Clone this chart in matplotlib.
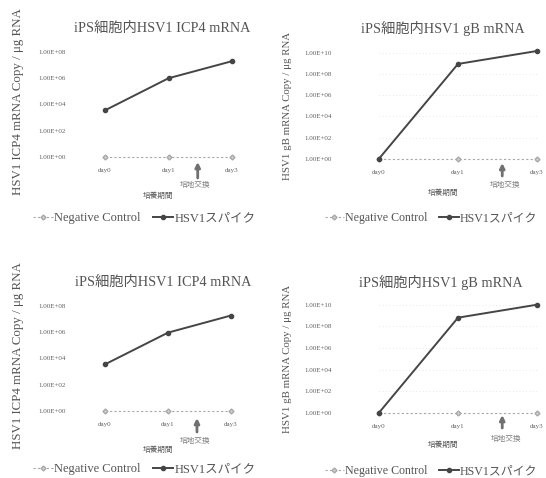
import matplotlib
matplotlib.use('Agg')
import matplotlib.pyplot as plt

plt.rcParams['font.family'] = ['Liberation Serif', 'Noto Sans CJK JP']

# data
days = ['day0', 'day1', 'day3']
neg_ctrl = [1, 1, 1]
icp4_a = [3.6e3, 1.0e6, 2.0e7]
icp4_b = [3.5e3, 9.0e5, 1.8e7]
gb_a = [1, 8.7e8, 1.45e10]
gb_b = [1, 6.3e8, 1.0e10]
icp4_ticks = [1e0, 1e2, 1e4, 1e6, 1e8]
icp4_ticklabels = ['1.00E+00', '1.00E+02', '1.00E+04', '1.00E+06', '1.00E+08']
gb_ticks = [1e0, 1e2, 1e4, 1e6, 1e8, 1e10]
gb_ticklabels = ['1.00E+00', '1.00E+02', '1.00E+04', '1.00E+06', '1.00E+08', '1.00E+10']

W, H = 546, 478
fig = plt.figure(figsize=(W / 100, H / 100), dpi=100)


def px(x, y):
    return x / W, 1 - y / H


def panel(x0, x1, yb, yt, vals, ticks, labels, title, ylabel, title_xy,
          ylab_xy, ylab_size, tick_pad, arrow, mark_xy, period_xy, leg_xy,
          leg_size, grid):
    ax = fig.add_axes([x0 / W, 1 - yb / H, (x1 - x0) / W, (yb - yt) / H])
    ax.set_yscale('log')
    x = range(len(days))
    if grid:
        for t in ticks[1:]:
            ax.axhline(t, color='#e0e0e0', lw=0.6, ls=(0, (1, 3)), zorder=0)
    ax.plot(x, neg_ctrl, color='#a8a8a8', lw=0.8, ls=(0, (2, 2)), marker='D',
            ms=2.5, mfc='#d0d0d0', mec='#a8a8a8', clip_on=False,
            label='Negative Control')
    ax.plot(x, vals, color='#454545', lw=1.4, marker='o', ms=3,
            mfc='#454545', mec='#454545', clip_on=False, label='HSV1スパイク')
    ax.set_xlim(0, 2)
    ax.set_ylim(ticks[0], ticks[-1])
    ax.set_yticks(ticks)
    ax.set_yticklabels(labels)
    ax.minorticks_off()
    ax.set_xticks(list(x))
    ax.set_xticklabels(days)
    ax.tick_params(axis='y', length=0, pad=tick_pad, labelsize=5, labelcolor='#606060')
    ax.tick_params(axis='x', length=0, pad=8, labelsize=5, labelcolor='#606060')
    for s in ax.spines.values():
        s.set_visible(False)
    ax.patch.set_alpha(0)
    # medium change arrow
    ax_x, a_top, a_bot = arrow
    ax.annotate('', xy=(ax_x, 1 - a_top / H), xytext=(ax_x, 1 - a_bot / H),
                xycoords=('data', 'figure fraction'),
                textcoords=('data', 'figure fraction'),
                arrowprops=dict(arrowstyle='-|>', color='#707070', lw=2.0,
                                mutation_scale=7, shrinkA=0, shrinkB=0))
    fig.text(*px(*title_xy), title, ha='center', va='center', fontsize=10.3,
             color='#555555')
    fig.text(*px(*ylab_xy), ylabel, ha='center', va='center', rotation=90,
             fontsize=ylab_size, color='#555555')
    fig.text(*px(*mark_xy), '培地交換', ha='center', va='center', fontsize=5.5,
             color='#808080')
    fig.text(*px(*period_xy), '培養期間', ha='center', va='center', fontsize=5.5,
             color='#555555')
    ax.legend(loc='center', bbox_to_anchor=px(*leg_xy), bbox_transform=fig.transFigure,
              ncol=2, frameon=False, fontsize=leg_size, handlelength=1.6,
              handletextpad=0.1, columnspacing=1.0, labelcolor='#555555')
    return ax


panel(105, 232, 157, 52, icp4_a, icp4_ticks, icp4_ticklabels,
      'iPS細胞内HSV1 ICP4 mRNA', 'HSV1 ICP4 mRNA Copy / μg RNA',
      (162, 28), (18, 102), 9.3, 28, (1.46, 162, 178), (195, 185), (158, 196),
      (144, 218), 9.0, False)
panel(379, 537, 158.7, 52.7, gb_a, gb_ticks, gb_ticklabels,
      'iPS細胞内HSV1 gB mRNA', 'HSV1 gB mRNA Copy / μg RNA',
      (443, 28), (288, 106), 7.8, 34, (1.56, 163, 176), (505, 185), (443, 193),
      (431, 218), 8.6, True)
panel(105, 231, 411, 305.7, icp4_b, icp4_ticks, icp4_ticklabels,
      'iPS細胞内HSV1 ICP4 mRNA', 'HSV1 ICP4 mRNA Copy / μg RNA',
      (163, 282), (18, 356), 9.3, 28, (1.46, 418, 432), (195, 441), (158, 450),
      (144, 469), 9.0, False)
panel(379, 537, 412.7, 304.7, gb_b, gb_ticks, gb_ticklabels,
      'iPS細胞内HSV1 gB mRNA', 'HSV1 gB mRNA Copy / μg RNA',
      (441, 282), (288, 359), 7.8, 34, (1.56, 415, 428), (506, 439), (443, 445),
      (431, 471), 8.6, True)

fig.savefig('out.png', dpi=100)
